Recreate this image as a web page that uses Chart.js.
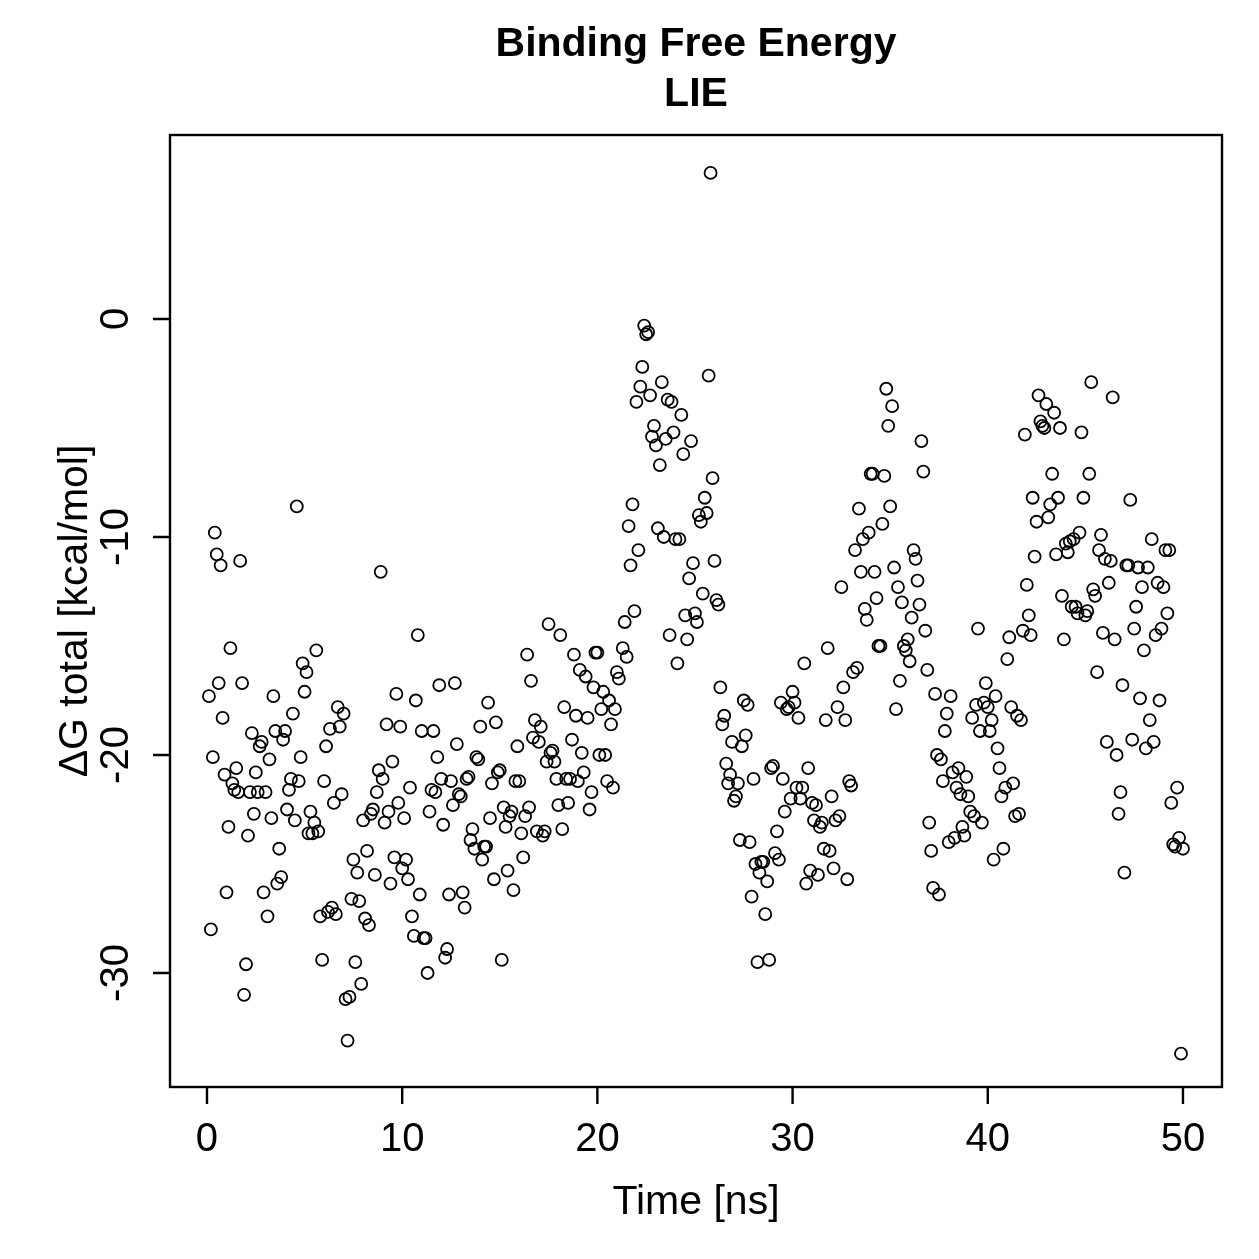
<!DOCTYPE html>
<html><head><meta charset="utf-8">
<script src="https://cdn.jsdelivr.net/npm/chart.js@4"></script>
<style>html,body{margin:0;padding:0;background:#fff}#wrap{width:1259px;height:1259px}</style>
</head><body><div id="wrap"><canvas id="c" width="1259" height="1259"></canvas></div>
<script>
const timeNs = [
0.1,0.2,0.3,0.4,0.5,0.6,0.7,0.8,0.9,1.0,
1.1,1.2,1.3,1.4,1.5,1.6,1.7,1.8,1.9,2.0,
2.1,2.2,2.3,2.4,2.5,2.6,2.7,2.8,2.9,3.0,
3.1,3.2,3.3,3.4,3.5,3.6,3.7,3.8,3.9,4.0,
4.1,4.2,4.3,4.4,4.5,4.6,4.7,4.8,4.9,5.0,
5.1,5.2,5.3,5.4,5.5,5.6,5.7,5.8,5.9,6.0,
6.1,6.2,6.3,6.4,6.5,6.6,6.7,6.8,6.9,7.0,
7.1,7.2,7.3,7.4,7.5,7.6,7.7,7.8,7.9,8.0,
8.1,8.2,8.3,8.4,8.5,8.6,8.7,8.8,8.9,9.0,
9.1,9.2,9.3,9.4,9.5,9.6,9.7,9.8,9.9,10.0,
10.1,10.2,10.3,10.4,10.5,10.6,10.7,10.8,10.9,11.0,
11.1,11.2,11.3,11.4,11.5,11.6,11.7,11.8,11.9,12.0,
12.1,12.2,12.3,12.4,12.5,12.6,12.7,12.8,12.9,13.0,
13.1,13.2,13.3,13.4,13.5,13.6,13.7,13.8,13.9,14.0,
14.1,14.2,14.3,14.4,14.5,14.6,14.7,14.8,14.9,15.0,
15.1,15.2,15.3,15.4,15.5,15.6,15.7,15.8,15.9,16.0,
16.1,16.2,16.3,16.4,16.5,16.6,16.7,16.8,16.9,17.0,
17.1,17.2,17.3,17.4,17.5,17.6,17.7,17.8,17.9,18.0,
18.1,18.2,18.3,18.4,18.5,18.6,18.7,18.8,18.9,19.0,
19.1,19.2,19.3,19.4,19.5,19.6,19.7,19.8,19.9,20.0,
20.1,20.2,20.3,20.4,20.5,20.6,20.7,20.8,20.9,21.0,
21.1,
21.3,21.4,21.5,21.6,21.7,21.8,21.9,22.0,
22.1,22.2,22.3,22.4,22.5,22.6,22.7,22.8,22.9,23.0,
23.1,23.2,23.3,23.4,23.5,23.6,23.7,23.8,23.9,24.0,
24.1,24.2,24.3,24.4,24.5,24.6,24.7,24.8,24.9,25.0,
25.1,25.2,25.3,25.4,25.5,25.6,25.7,25.8,25.9,26.0,
26.1,26.2,26.3,26.4,26.5,26.6,26.7,26.8,26.9,27.0,
27.1,27.2,27.3,27.4,27.5,27.6,27.7,27.8,27.9,28.0,
28.1,28.2,28.3,28.4,28.5,28.6,28.7,28.8,28.9,29.0,
29.1,29.2,29.3,29.4,29.5,29.6,29.7,29.8,29.9,30.0,
30.1,30.2,30.3,30.4,30.5,30.6,30.7,30.8,30.9,31.0,
31.1,31.2,31.3,31.4,31.5,31.6,31.7,31.8,31.9,32.0,
32.1,32.2,32.3,32.4,32.5,32.6,32.7,32.8,32.9,33.0,
33.1,33.2,33.3,33.4,33.5,33.6,33.7,33.8,33.9,34.0,
34.1,34.2,34.3,34.4,34.5,34.6,34.7,34.8,34.9,35.0,
35.1,35.2,35.3,35.4,35.5,35.6,35.7,35.8,35.9,36.0,
36.1,36.2,36.3,36.4,36.5,36.6,36.7,36.8,36.9,37.0,
37.1,37.2,37.3,37.4,37.5,37.6,37.7,37.8,37.9,38.0,
38.1,38.2,38.3,38.4,38.5,38.6,38.7,38.8,38.9,39.0,
39.1,39.2,39.3,39.4,39.5,39.6,39.7,39.8,39.9,40.0,
40.1,40.2,40.3,40.4,40.5,40.6,40.7,40.8,40.9,41.0,
41.1,41.2,41.3,41.4,41.5,41.6,41.7,41.8,41.9,42.0,
42.1,42.2,42.3,42.4,42.5,42.6,42.7,42.8,42.9,43.0,
43.1,43.2,43.3,43.4,43.5,43.6,43.7,43.8,43.9,44.0,
44.1,44.2,44.3,44.4,44.5,44.6,44.7,44.8,44.9,45.0,
45.1,45.2,45.3,45.4,45.5,45.6,45.7,45.8,45.9,46.0,
46.1,46.2,46.3,46.4,46.5,46.6,46.7,46.8,46.9,47.0,
47.1,47.2,47.3,47.4,47.5,47.6,47.7,47.8,47.9,48.0,
48.1,48.2,48.3,48.4,48.5,48.6,48.7,48.8,48.9,49.0,
49.1,49.2,49.3,49.4,49.5,49.6,49.7,49.8,49.9,50.0
];
const dGtotal = [
-17.3,-28.0,-20.1,-9.8,-10.8,-16.7,-11.3,-18.3,-20.9,-26.3,
-23.3,-15.1,-21.3,-21.6,-20.6,-21.7,-11.1,-16.7,-31.0,-29.6,
-23.7,-21.7,-19.0,-22.7,-20.8,-21.7,-19.6,-19.4,-26.3,-21.7,
-27.4,-20.2,-22.9,-17.3,-18.9,-25.9,-24.3,-25.6,-19.3,-18.9,
-22.5,-21.6,-21.1,-18.1,-23.0,-8.6,-21.2,-20.1,-15.8,-17.1,
-16.2,-23.6,-22.6,-23.6,-23.1,-15.2,-23.5,-27.4,-29.4,-21.2,
-19.6,-27.2,-18.8,-27.0,-22.2,-27.3,-17.8,-18.7,-21.8,-18.1,
-31.2,-33.1,-31.1,-26.6,-24.8,-29.5,-25.4,-26.7,-30.5,-23.0,
-27.5,-24.4,-27.8,-22.7,-22.5,-25.5,-21.7,-20.7,-11.6,-21.1,
-23.1,-18.6,-22.6,-25.9,-20.3,-24.7,-17.2,-22.2,-18.7,-25.2,
-22.9,-24.8,-25.7,-21.5,-27.4,-28.3,-17.5,-14.5,-26.4,-18.9,
-28.4,-28.4,-30.0,-22.6,-21.6,-18.9,-21.7,-20.1,-16.8,-21.1,
-23.2,-29.3,-28.9,-26.4,-21.2,-22.3,-16.7,-19.5,-21.8,-21.9,
-26.3,-27.0,-21.1,-21.0,-23.9,-23.4,-24.3,-20.1,-20.2,-18.7,
-24.8,-24.2,-24.2,-17.6,-22.9,-21.3,-25.7,-18.5,-20.8,-20.7,
-29.4,-22.4,-23.3,-25.3,-22.8,-22.6,-26.2,-21.2,-19.6,-21.2,
-23.6,-24.7,-22.8,-15.4,-22.4,-16.6,-19.2,-18.4,-23.5,-19.4,
-18.7,-23.7,-23.5,-20.3,-14.0,-19.9,-19.8,-20.3,-21.1,-22.3,
-14.5,-23.4,-17.8,-21.1,-22.2,-21.1,-19.3,-15.4,-18.2,-21.2,
-16.1,-19.9,-20.8,-16.4,-18.3,-22.5,-21.7,-16.9,-15.3,-15.3,
-20.0,-17.9,-17.1,-20.0,-21.2,-17.5,-18.6,-21.5,-17.9,-16.2,
-16.5,
-15.1,-13.9,-15.5,-9.5,-11.3,-8.5,-13.4,-3.8,
-10.6,-3.1,-2.2,-0.3,-0.7,-0.6,-3.5,-5.4,-4.9,-5.8,
-9.6,-6.7,-2.9,-10.0,-5.5,-3.7,-14.5,-3.8,-5.2,-10.1,
-15.8,-10.1,-4.4,-6.2,-13.6,-14.7,-11.9,-5.6,-11.2,-13.5,
-13.9,-9.0,-9.3,-12.6,-8.2,-8.9,-2.6,6.7,-7.3,-11.1,
-12.9,-13.1,-16.9,-18.6,-18.2,-20.4,-21.3,-20.9,-19.4,-22.1,
-21.9,-21.3,-23.9,-19.6,-17.5,-19.1,-17.7,-24.0,-26.5,-21.1,
-25.0,-29.5,-25.4,-24.9,-24.9,-27.3,-25.8,-29.4,-20.6,-20.5,
-24.5,-23.5,-24.8,-17.6,-21.1,-22.6,-17.9,-17.8,-22.0,-17.1,
-17.6,-21.5,-18.3,-22.0,-21.5,-15.8,-25.9,-20.6,-25.3,-22.2,
-23.0,-22.3,-25.5,-23.3,-23.1,-24.3,-18.4,-15.1,-24.4,-21.9,
-25.2,-23.0,-17.8,-22.8,-12.3,-16.9,-18.4,-25.7,-21.2,-21.4,
-16.2,-10.6,-16.0,-8.7,-11.6,-10.1,-13.3,-13.8,-9.8,-7.1,
-7.1,-11.6,-12.8,-15.0,-15.0,-9.4,-7.2,-3.2,-4.9,-8.6,
-4.0,-11.4,-17.9,-12.3,-16.6,-13.0,-15.0,-15.2,-14.7,-15.7,
-13.7,-10.6,-11.0,-12.0,-13.1,-5.6,-7.0,-14.3,-16.1,-23.1,
-24.4,-26.1,-17.2,-20.0,-26.4,-20.2,-21.2,-18.9,-18.1,-24.0,
-17.3,-20.8,-23.8,-21.5,-20.6,-21.8,-23.3,-23.7,-21.0,-21.9,
-22.6,-18.3,-22.8,-17.7,-14.2,-18.9,-23.1,-17.6,-16.7,-17.8,
-18.9,-18.4,-24.8,-17.3,-19.7,-20.6,-21.9,-24.3,-21.5,-15.6,
-14.6,-17.8,-21.3,-22.8,-18.2,-22.7,-18.4,-14.3,-5.3,-12.2,
-13.6,-14.5,-8.2,-10.9,-9.3,-3.5,-4.7,-4.9,-5.0,-3.9,
-9.1,-8.5,-7.1,-4.3,-10.8,-8.2,-5.0,-12.7,-14.7,-10.3,
-10.7,-10.2,-13.2,-10.1,-13.2,-13.5,-9.8,-5.2,-8.2,-13.6,
-13.4,-7.1,-2.9,-12.4,-12.7,-16.2,-10.6,-9.9,-14.4,-11.0,
-19.4,-12.1,-11.1,-3.6,-14.7,-20.0,-22.7,-21.7,-16.8,-25.4,
-11.3,-11.3,-8.3,-19.3,-14.2,-13.2,-11.4,-17.4,-12.3,-15.2,
-19.7,-11.4,-18.4,-10.1,-19.4,-14.5,-12.1,-17.5,-14.2,-12.3,
-10.6,-13.5,-10.6,-22.2,-24.1,-24.2,-21.5,-23.8,-33.7,-24.3
];
const xTicks = [0, 10, 20, 30, 40, 50];
const xTickLabels = ["0", "10", "20", "30", "40", "50"];
const yTicks = [0, -10, -20, -30];
const yTickLabels = ["0", "-10", "-20", "-30"];
const titleLines = ["Binding Free Energy", "LIE"];
const xTitle = "Time [ns]";
const yTitle = "\u0394G total [kcal/mol]";

const FONT = "'Liberation Sans', Arial, Helvetica, sans-serif";

const points = timeNs.map((t, i) => ({ x: t, y: dGtotal[i] }));

const rBasePlot = {
  id: 'rBasePlot',
  afterDraw(chart) {
    const ctx = chart.ctx;
    const a = chart.chartArea;
    const xs = chart.scales.x, ys = chart.scales.y;
    ctx.save();
    ctx.strokeStyle = '#000';
    ctx.fillStyle = '#000';
    ctx.lineWidth = 2.4;
    ctx.strokeRect(a.left, a.top, a.right - a.left, a.bottom - a.top);
    const tl = 17;
    ctx.beginPath();
    xTicks.forEach(v => {
      const px = xs.getPixelForValue(v);
      ctx.moveTo(px, a.bottom); ctx.lineTo(px, a.bottom + tl);
    });
    yTicks.forEach(v => {
      const py = ys.getPixelForValue(v);
      ctx.moveTo(a.left, py); ctx.lineTo(a.left - tl, py);
    });
    ctx.stroke();
    ctx.font = '40px ' + FONT;
    ctx.textAlign = 'center';
    ctx.textBaseline = 'middle';
    xTicks.forEach((v, i) => {
      ctx.fillText(xTickLabels[i], xs.getPixelForValue(v), a.bottom + 53);
    });
    yTicks.forEach((v, i) => {
      ctx.save();
      ctx.translate(a.left - 53, ys.getPixelForValue(v));
      ctx.rotate(-Math.PI / 2);
      ctx.fillText(yTickLabels[i], 0, 0);
      ctx.restore();
    });
    const cx = (a.left + a.right) / 2;
    const cy = (a.top + a.bottom) / 2;
    ctx.font = '41px ' + FONT;
    ctx.fillText(xTitle, cx, a.bottom + 116);
    ctx.save();
    ctx.translate(a.left - 94, cy);
    ctx.rotate(-Math.PI / 2);
    ctx.fillText(yTitle, 0, 0);
    ctx.restore();
    ctx.font = 'bold 41px ' + FONT;
    ctx.fillText(titleLines[0], cx, 45);
    ctx.fillText(titleLines[1], cx, 95);
    ctx.restore();
  }
};

new Chart(document.getElementById('c'), {
  type: 'scatter',
  data: {
    datasets: [{
      data: points,
      pointStyle: 'circle',
      pointRadius: 6,
      pointHoverRadius: 6,
      borderWidth: 1.8,
      borderColor: '#000',
      backgroundColor: 'rgba(0,0,0,0)'
    }]
  },
  options: {
    responsive: false,
    animation: false,
    devicePixelRatio: 1,
    layout: { padding: { left: 170, top: 135, right: 37, bottom: 172 } },
    scales: {
      x: { type: 'linear', min: -1.895, max: 52.0, display: false },
      y: { type: 'linear', min: -35.23, max: 8.44, display: false }
    },
    plugins: { legend: { display: false }, tooltip: { enabled: false } },
    events: []
  },
  plugins: [rBasePlot]
});
</script>
</body></html>
